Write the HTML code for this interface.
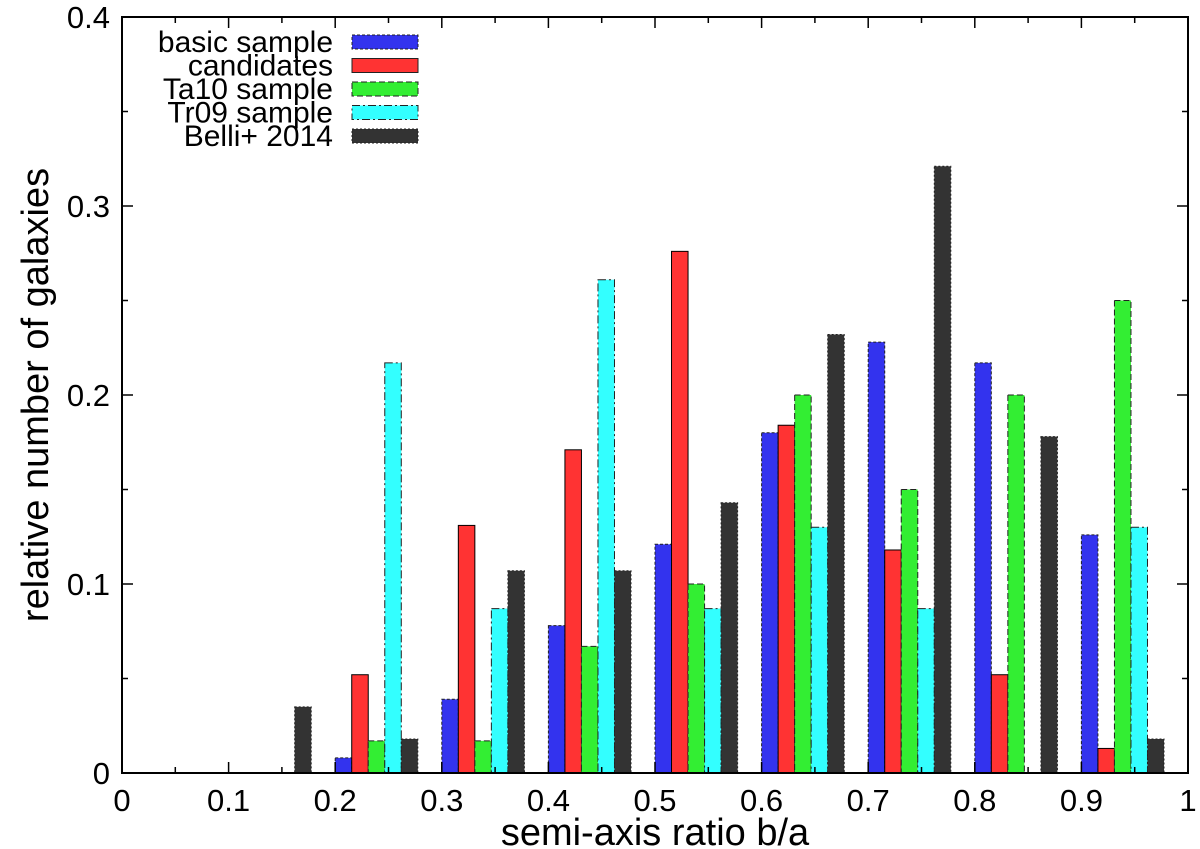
<!DOCTYPE html>
<html><head><meta charset="utf-8"><style>body{margin:0;background:#fff}svg{display:block;font-family:"Liberation Sans",Arial,sans-serif}</style></head>
<body>
<svg id="c" width="1200" height="849"></svg>
<script>
const binStarts=[0,0.1,0.2,0.3,0.4,0.5,0.6,0.7,0.8,0.9];
const seriesNames=["basic sample","candidates","Ta10 sample","Tr09 sample","Belli+ 2014"];
const basic=[0,0,0.008,0.039,0.078,0.121,0.180,0.228,0.217,0.126];
const candidates=[0,0,0.052,0.131,0.171,0.276,0.184,0.118,0.052,0.013];
const ta10=[0,0,0.017,0.017,0.067,0.100,0.200,0.150,0.200,0.250];
const tr09=[0,0,0.217,0.087,0.261,0.087,0.130,0.087,0,0.130];
const belli=[0,0.035,0.018,0.107,0.107,0.143,0.232,0.321,0.178,0.018];
const xTicks=["0","0.1","0.2","0.3","0.4","0.5","0.6","0.7","0.8","0.9","1"];
const yTicks=["0","0.1","0.2","0.3","0.4"];
const series=[basic,candidates,ta10,tr09,belli];
const colors=["#3333ee","#ff3333","#33ee33","#33ffff","#333333"];
const dashes=["3,2","","6,3","8,3,2,3","2,2"];
const L=122,R=1188,T=17,B=773;
const xs=v=>L+v*(R-L);
const ys=v=>B-v/0.4*(B-T);
const svg=document.getElementById('c');
const NS="http://www.w3.org/2000/svg";
function mk(t,a,p){const e=document.createElementNS(NS,t);for(const k in a)e.setAttribute(k,a[k]);(p||svg).appendChild(e);return e;}
const bw=0.0155;
series.forEach((s,si)=>{s.forEach((v,bi)=>{if(v<=0)return;
 const x0=xs(binStarts[bi]+si*bw),x1=xs(binStarts[bi]+(si+1)*bw);
 const r=mk('rect',{x:x0,y:ys(v),width:x1-x0,height:ys(0)-ys(v),fill:colors[si],stroke:si==1?'#000':'#222','stroke-width':1,'stroke-dasharray':dashes[si]});
 
 
});});
mk('rect',{x:L,y:T,width:R-L,height:B-T,fill:'none',stroke:'#000','stroke-width':2,});
for(let i=0;i<=20;i++){const v=i/20,x=xs(v),len=i%2?6:11;
 mk('line',{x1:x,x2:x,y1:B,y2:B-len,stroke:'#000','stroke-width':1.5});
 mk('line',{x1:x,x2:x,y1:T,y2:T+len,stroke:'#000','stroke-width':1.5});}
xTicks.forEach((t,i)=>{const e=mk('text',{x:xs(i/10),y:B+38,'text-anchor':'middle','font-size':31});e.textContent=t;
 });
for(let i=0;i<=8;i++){const v=i*0.05,y=ys(v),len=i%2?6:11;
 mk('line',{x1:L,x2:L+len,y1:y,y2:y,stroke:'#000','stroke-width':1.5});
 mk('line',{x1:R,x2:R-len,y1:y,y2:y,stroke:'#000','stroke-width':1.5});}
yTicks.forEach((t,i)=>{const e=mk('text',{x:L-12,y:ys(i*0.1)+11,'text-anchor':'end','font-size':31});e.textContent=t;
 });
let e=mk('text',{x:655,y:845,'text-anchor':'middle','font-size':38,});e.textContent='semi-axis ratio b/a';
e=mk('text',{x:0,y:0,'text-anchor':'middle','font-size':38,transform:'translate(48,395) rotate(-90)',});e.textContent='relative number of galaxies';
seriesNames.forEach((n,i)=>{const y=42+i*23.5;
 const g=mk('g',{});
 const t=mk('text',{x:333,y:y+10,'text-anchor':'end','font-size':30},g);t.textContent=n;
 mk('rect',{x:352,y:y-7,width:66,height:14,fill:colors[i],stroke:'#222','stroke-width':1,'stroke-dasharray':dashes[i]},g);});
</script>
</body></html>
